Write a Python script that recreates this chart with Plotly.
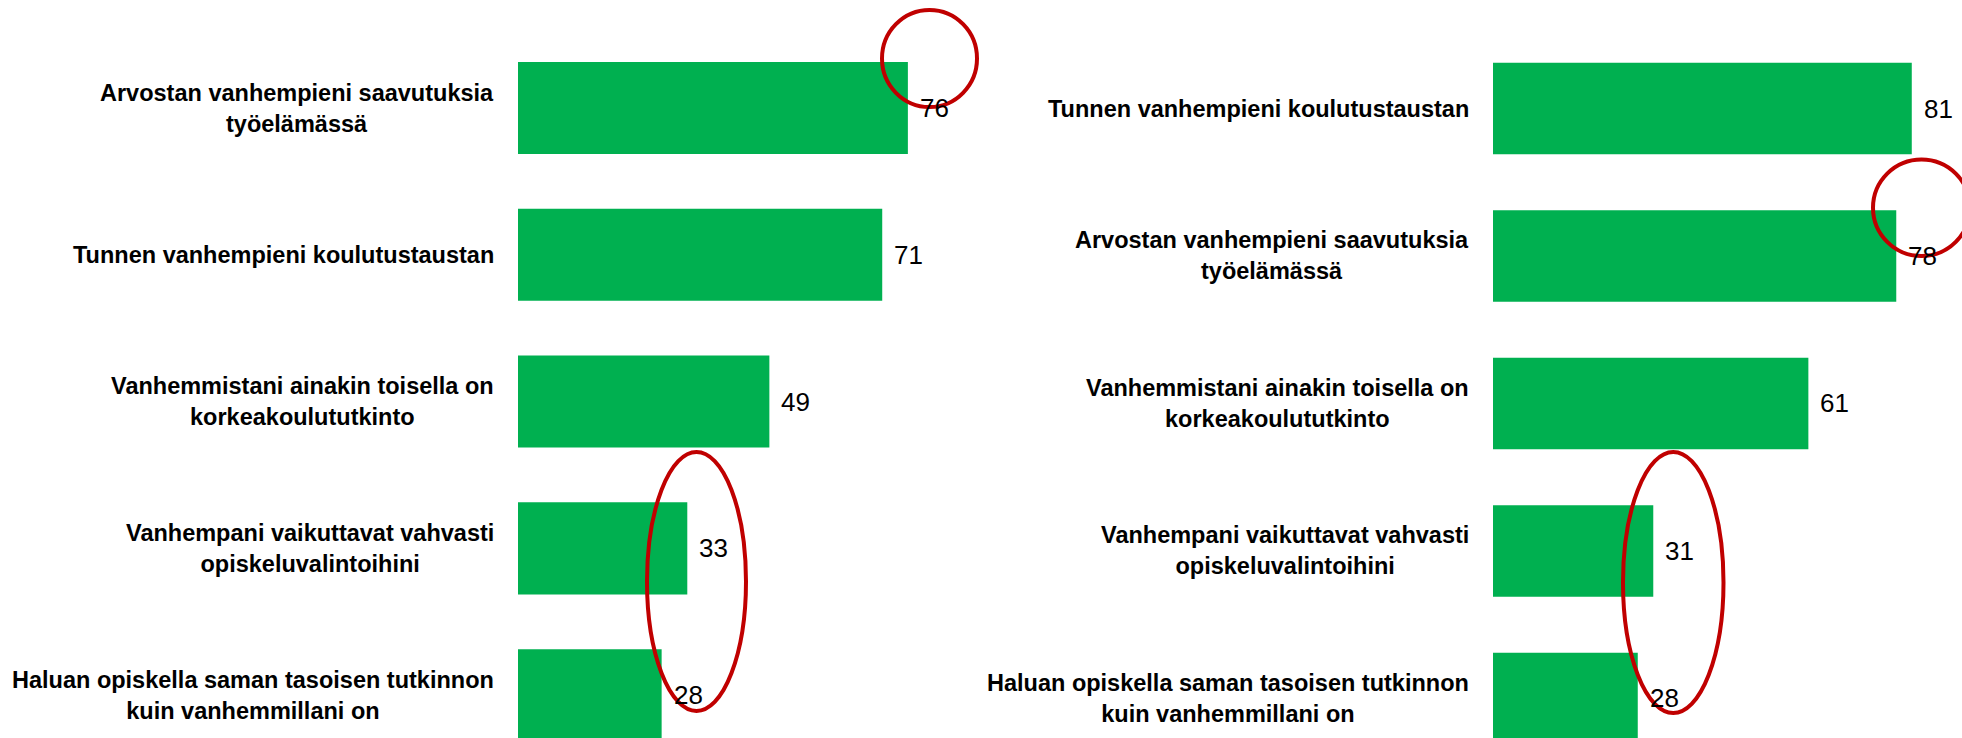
import plotly.graph_objects as go

# ---- data ----
left_labels = [
    "Arvostan vanhempieni saavutuksia<br>työelämässä",
    "Tunnen vanhempieni koulutustaustan",
    "Vanhemmistani ainakin toisella on<br>korkeakoulututkinto",
    "Vanhempani vaikuttavat vahvasti<br>opiskeluvalintoihini",
    "Haluan opiskella saman tasoisen tutkinnon<br>kuin vanhemmillani on",
]
left_values = [76, 71, 49, 33, 28]

right_labels = [
    "Tunnen vanhempieni koulutustaustan",
    "Arvostan vanhempieni saavutuksia<br>työelämässä",
    "Vanhemmistani ainakin toisella on<br>korkeakoulututkinto",
    "Vanhempani vaikuttavat vahvasti<br>opiskeluvalintoihini",
    "Haluan opiskella saman tasoisen tutkinnon<br>kuin vanhemmillani on",
]
right_values = [81, 78, 61, 31, 28]

# ---- style ----
W, H = 1962, 738
GREEN = "#00B050"
RED = "#C00000"
LABEL_FONT = dict(family="Liberation Sans, Arial, sans-serif", size=23.5, color="black")
VALUE_FONT = dict(family="Liberation Sans, Arial, sans-serif", size=26, color="black")

fig = go.Figure()
fig.add_trace(go.Bar(orientation="h", y=left_labels, x=left_values,
                     xaxis="x", yaxis="y", marker=dict(color=GREEN, line=dict(width=0)),
                     width=0.627, hoverinfo="skip"))
fig.add_trace(go.Bar(orientation="h", y=right_labels, x=right_values,
                     xaxis="x2", yaxis="y2", marker=dict(color=GREEN, line=dict(width=0)),
                     width=0.62, hoverinfo="skip"))

annotations = []
for labels, values, xr, yr in [(left_labels, left_values, "x", "y"),
                                (right_labels, right_values, "x2", "y2")]:
    for lab, val in zip(labels, values):
        annotations.append(dict(x=0, y=lab, xref=xr, yref=yr, text="<b>%s</b>" % lab,
                                xanchor="right", yanchor="middle", align="center",
                                xshift=-22, showarrow=False, font=LABEL_FONT))
        annotations.append(dict(x=val, y=lab, xref=xr, yref=yr, text=str(val),
                                xanchor="left", yanchor="middle", xshift=10,
                                showarrow=False, font=VALUE_FONT))

# highlight ellipses (pixel boxes -> paper coords)
ellipse_boxes = [(882, 10, 977, 107), (647, 452, 746, 711),
                 (1873, 159.5, 1970, 256), (1623, 452, 1723.5, 713)]
shapes = []
for x0, y0, x1, y1 in ellipse_boxes:
    shapes.append(dict(type="circle", xref="paper", yref="paper",
                       x0=x0 / W, x1=x1 / W, y0=1 - y1 / H, y1=1 - y0 / H,
                       line=dict(color=RED, width=4), layer="above"))

axis_off = dict(showgrid=False, zeroline=False, showticklabels=False, showline=False,
                ticks="", fixedrange=True)
fig.update_layout(
    width=W, height=H,
    margin=dict(l=0, r=0, t=0, b=0),
    paper_bgcolor="white", plot_bgcolor="white",
    showlegend=False,
    xaxis=dict(domain=[518 / W, (518 + 80 * 5.13) / W], range=[0, 80], anchor="y", **axis_off),
    yaxis=dict(domain=[0, 1], type="category", categoryarray=left_labels,
               categoryorder="array", range=[4.292, -0.736], anchor="x", **axis_off),
    xaxis2=dict(domain=[1493 / W, (1493 + 90 * 5.17) / W], range=[0, 90], anchor="y2", **axis_off),
    yaxis2=dict(domain=[0, 1], type="category", categoryarray=right_labels,
                categoryorder="array", range=[4.268, -0.7356], anchor="x2", **axis_off),
    annotations=annotations,
    shapes=shapes,
)

fig.write_html("out.html", config={"displayModeBar": False},
               post_script="document.body.style.margin='0';")
